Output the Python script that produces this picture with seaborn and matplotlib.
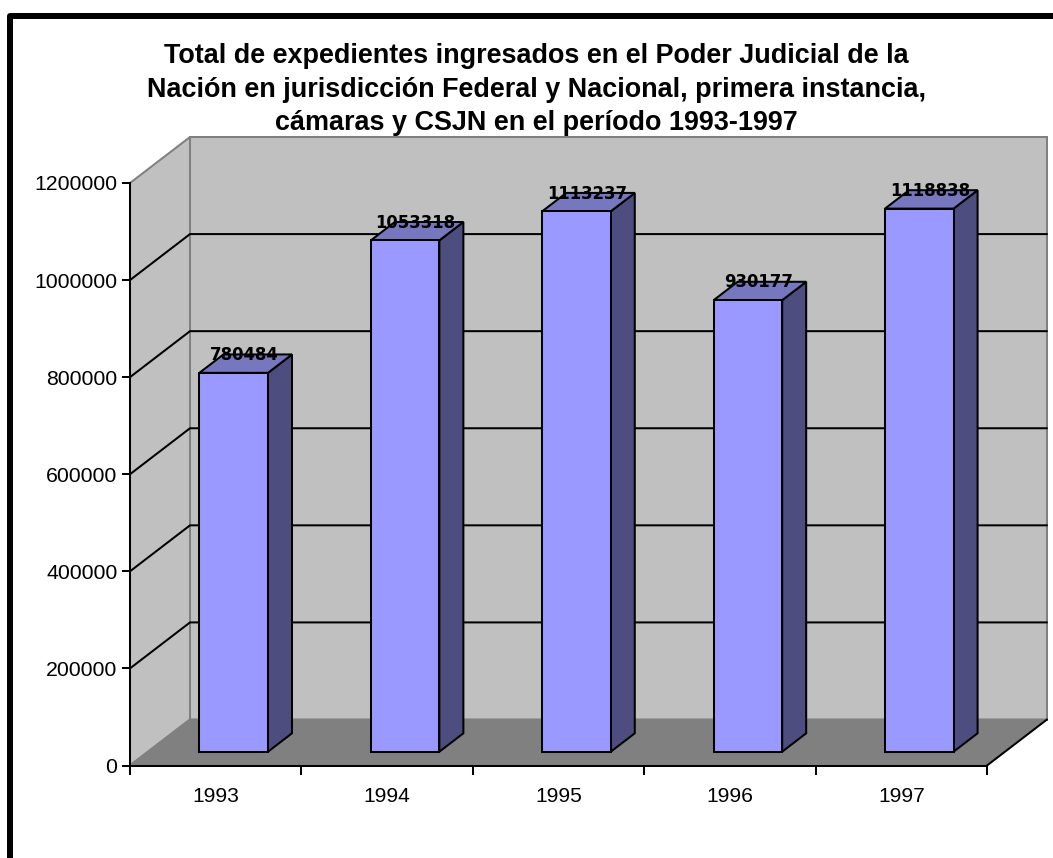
import matplotlib
matplotlib.use("Agg")
import matplotlib.pyplot as plt
import seaborn as sns
from matplotlib.patches import Polygon, Rectangle
from matplotlib.transforms import IdentityTransform

years = ["1993", "1994", "1995", "1996", "1997"]
totals = [780484, 1053318, 1113237, 930177, 1118838]
y_ticks = [0, 200000, 400000, 600000, 800000, 1000000, 1200000]
title_lines = [
    "Total de expedientes ingresados en el Poder Judicial de la",
    "Nación en jurisdicción Federal y Nacional, primera instancia,",
    "cámaras y CSJN en el período 1993-1997",
]

W, H = 1053, 858
AX_L, AX_R, AX_B, AX_T = 130, 987, 765.5, 183
DEPTH_X_PX, DEPTH_Y_PX = 60, 46
FRONT, TOP, SIDE = "#9999FF", "#7777BF", "#4D4D80"
WALL, FLOOR, EDGE = "#C0C0C0", "#808080", "#808080"
LW = 1.45

sns.set_theme(style="white")
plt.rcParams["font.family"] = ["Liberation Sans", "DejaVu Sans"]

fig = plt.figure(figsize=(W / 100, H / 100), dpi=100, facecolor="white")
ax = fig.add_axes([AX_L / W, (H - AX_B) / H, (AX_R - AX_L) / W, (AX_B - AX_T) / H])
ax.patch.set_visible(False)

sns.barplot(x=years, y=totals, width=0.4, color=FRONT, saturation=1, ax=ax,
            edgecolor="black", linewidth=LW, zorder=6)
x0, x1 = -0.5, len(years) - 0.5
y0, y1 = y_ticks[0], y_ticks[-1]
ax.set_xlim(x0, x1)
ax.set_ylim(y0, y1)

# one depth unit expressed in data units
dx = DEPTH_X_PX * (x1 - x0) / (AX_R - AX_L)
dy = DEPTH_Y_PX * (y1 - y0) / (AX_B - AX_T)

def poly(points, fc, ec="none", z=1, lw=LW):
    ax.add_patch(Polygon(points, closed=True, facecolor=fc, edgecolor=ec, linewidth=lw,
                         zorder=z, clip_on=False, joinstyle="miter"))

# walls and floor
poly([(x0 + dx, y0 + dy), (x1 + dx, y0 + dy), (x1 + dx, y1 + dy), (x0 + dx, y1 + dy)], WALL, EDGE, 1)
poly([(x0, y0), (x0 + dx, y0 + dy), (x0 + dx, y1 + dy), (x0, y1)], WALL, EDGE, 1)

for v in y_ticks[1:-1]:
    ax.plot([x0, x0 + dx, x1 + dx], [v, v + dy, v + dy], color="black", lw=LW,
            zorder=2, clip_on=False, solid_joinstyle="miter")

poly([(x0, y0), (x1, y0), (x1 + dx, y0 + dy), (x0 + dx, y0 + dy)], FLOOR, "none", 3)
ax.plot([x0, x0 + dx, x1 + dx], [y0, y0 + dy, y0 + dy], color=EDGE,
        lw=LW, zorder=3.5, clip_on=False)
ax.plot([x1, x1 + dx], [y0, y0 + dy], color="black", lw=LW, zorder=3.6, clip_on=False)

# bars: sit in the middle of the floor depth
near, far = 0.3, 0.7
for patch, value in zip(ax.patches[:len(years)], totals):
    patch.set_x(patch.get_x() + near * dx)
    patch.set_y(near * dy)
    patch.set_clip_on(False)
    left = patch.get_x()
    right = left + patch.get_width()
    base = near * dy
    top = base + value
    bx, by = (far - near) * dx, (far - near) * dy
    poly([(right, base), (right + bx, base + by), (right + bx, top + by), (right, top)],
         SIDE, "black", 5)
    poly([(left, top), (right, top), (right + bx, top + by), (left + bx, top + by)],
         TOP, "black", 5)
    ax.annotate(f"{value}", xy=(left + patch.get_width() / 2 + bx / 2, top + by),
                xytext=(-1, -0.5), textcoords="offset points", ha="center", va="center",
                fontsize=11.9, fontweight="bold", family="DejaVu Sans", color="black",
                zorder=8, annotation_clip=False)

# axes furniture
sns.despine(ax=ax, top=True, right=True)
for s in ("left", "bottom"):
    ax.spines[s].set_color("black")
    ax.spines[s].set_linewidth(LW)
    ax.spines[s].set_zorder(7)

ax.set_xlabel("")
ax.set_ylabel("")
ax.set_yticks(y_ticks)
ax.set_yticklabels([str(v) for v in y_ticks])
ax.set_xticks(range(len(years)))
ax.set_xticklabels(years)
ax.set_xticks([i - 0.5 for i in range(len(years) + 1)], minor=True)
ax.tick_params(axis="y", which="major", left=True, length=6, width=LW, color="black",
               labelsize=15.3, pad=3, labelcolor="black")
ax.tick_params(axis="x", which="major", bottom=False, length=0, labelsize=15.1, pad=15.5,
               labelcolor="black")
ax.tick_params(axis="x", which="minor", bottom=True, length=6.5, width=LW, color="black")

# title
for line, y in zip(title_lines, (56, 90, 123)):
    fig.text(536.5 / W, (H - y) / H, line, ha="center", va="center", fontsize=19.45,
             fontweight="bold", color="black")

# thick outer frame, running off the right and bottom of the picture
fig.add_artist(Rectangle((10.3, -40), 1200, H - 15.5 + 40, transform=IdentityTransform(),
                         fill=False, edgecolor="black", linewidth=6 * 0.72,
                         joinstyle="round"))

fig.savefig("out.png", dpi=100, facecolor="white")
